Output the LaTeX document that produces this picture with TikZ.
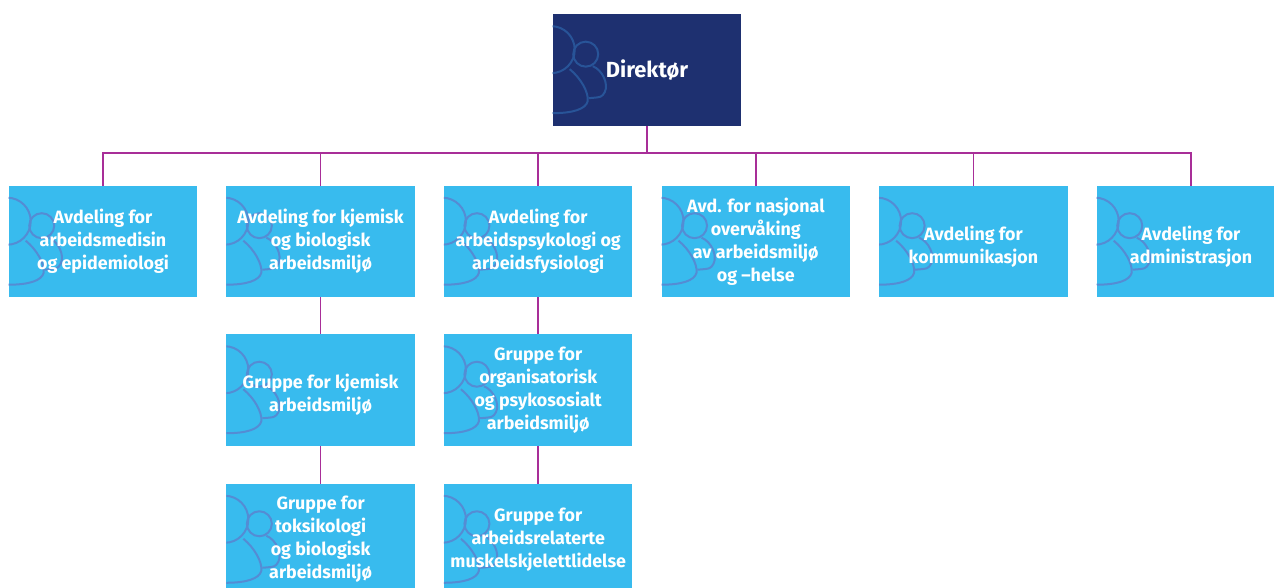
\documentclass[tikz,border=0pt]{standalone}
\usepackage{fontspec}
\setmainfont{Fira Sans}
\usetikzlibrary{positioning,calc}
\definecolor{navy}{RGB}{30,48,112}
\definecolor{sky}{RGB}{56,187,238}
\definecolor{navyline}{RGB}{40,84,152}
\definecolor{skyline}{RGB}{84,140,212}
\definecolor{linje}{RGB}{168,46,152}
\pgfdeclarelayer{bunn}
\pgfdeclarelayer{figur}
\pgfsetlayers{bunn,figur,main}

% figurene i venstre kant av boksene (i px, fra boksens hjorne)
\newcommand\folk[2]{%
  \begin{scope}
    \clip (#1.north west) rectangle (#1.south east);
    \begin{scope}[shift={(#1.north west)}, x=0.75pt, y=-0.75pt, draw=#2, line width=1.5pt]
      \draw (-1.5,35.5) circle (23.5);
      \draw (33,40) circle (12.5);
      \draw (40,52) .. controls (50,56) and (56,70) .. (52,78) .. controls (49,83) .. (36,84);
      \draw (17,55) .. controls (28,64) and (36,78) .. (35,87) .. controls (33,95) and (20,99) .. (0,99);
    \end{scope}
  \end{scope}}
% to linjer står litt lavere
\newcommand\lav{\rule{0pt}{18.5pt}}

\tikzset{
  boks/.style={rectangle, minimum width=141pt, minimum height=83.25pt, inner sep=0pt,
    text=white, align=center, font=\bfseries\fontsize{13.4}{17.25}\selectfont},
  avd/.style={boks},
  leder/.style={boks, font=\bfseries\fontsize{16.4}{20}\selectfont},
  linjal/.style={draw=linje, line width=1.3pt}
}

\begin{document}
\begin{tikzpicture}[node distance=21.8pt]
  \useasboundingbox (0,0) rectangle (955.5pt,-441pt);

  % avdelingene
  \node[avd] (arbmed) at (77.25pt,-181.1pt) {Avdeling for\\arbeidsmedisin\\og epidemiologi};
  \node[avd, right=of arbmed] (kjem) {Avdeling for kjemisk\\og biologisk\\arbeidsmiljø};
  \node[avd, right=of kjem] (psyk) {Avdeling for\\arbeidspsykologi og\\arbeidsfysiologi};
  \node[avd, right=of psyk] (nasj) {Avd. for nasjonal\\overvåking\\av arbeidsmiljø\\og –helse};
  \node[avd, right=of nasj] (komm) {\lav Avdeling for\\kommunikasjon};
  \node[avd, right=of komm] (adm) {\lav Avdeling for\\administrasjon};

  % direktør
  \coordinate (midt) at ($(psyk.north)!0.5!(nasj.north)$);
  \node[leder, above=45pt of midt] (dir) {Direktør};

  % gruppene
  \node[avd, below=27.75pt of kjem] (gkjem) {\lav Gruppe for kjemisk\\arbeidsmiljø};
  \node[avd, below=28.5pt of gkjem] (gtoks) {Gruppe for\\toksikologi\\og biologisk\\arbeidsmiljø};
  \node[avd, below=27.75pt of psyk] (gorg) {Gruppe for\\organisatorisk\\og psykososialt\\arbeidsmiljø};
  \node[avd, below=28.5pt of gorg] (gmusk) {Gruppe for\\arbeidsrelaterte\\muskelskjelettlidelse};

  % flater og figurer bak teksten
  \begin{pgfonlayer}{bunn}
    \fill[navy] (dir.north west) rectangle (dir.south east);
    \foreach \n in {arbmed,kjem,psyk,nasj,komm,adm,gkjem,gtoks,gorg,gmusk}
      \fill[sky] (\n.north west) rectangle (\n.south east);
  \end{pgfonlayer}
  \begin{pgfonlayer}{figur}
    \folk{dir}{navyline}
    \foreach \n in {arbmed,kjem,psyk,nasj,komm,adm,gkjem,gtoks,gorg,gmusk}
      {\folk{\n}{skyline}}
  \end{pgfonlayer}

  % linjer
  \coordinate (buss) at ($(dir.south)+(0,-20.25pt)$);
  \draw[linjal] (dir.south) -- (buss);
  \foreach \n in {arbmed,kjem,psyk,nasj,komm,adm}
    \draw[linjal] (buss) -| (\n.north);
  \draw[linjal] (kjem) -- (gkjem);
  \draw[linjal] (gkjem) -- (gtoks);
  \draw[linjal] (psyk) -- (gorg);
  \draw[linjal] (gorg) -- (gmusk);
\end{tikzpicture}
\end{document}
